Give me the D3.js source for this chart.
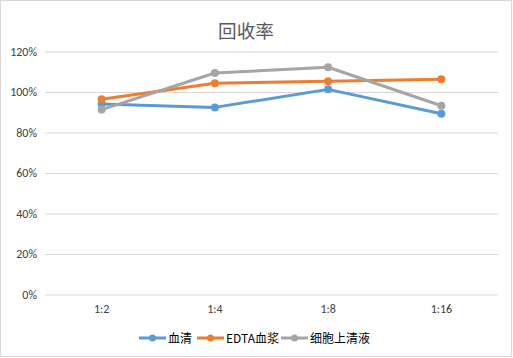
<!DOCTYPE html>
<html><head><meta charset="utf-8">
<script src="https://cdn.jsdelivr.net/npm/d3@7"></script>
<style>body{margin:0;background:#fff;}svg{display:block;font-family:"Microsoft YaHei","Noto Sans CJK SC","DejaVu Sans",sans-serif;}</style>
</head><body>
<script>
const categories = ["1:2","1:4","1:8","1:16"];
const seriesNames = ["血清","EDTA血浆","细胞上清液"];
const serum = [0.941, 0.924, 1.013, 0.893];
const edta = [0.964, 1.043, 1.053, 1.063];
const cellSup = [0.913, 1.094, 1.122, 0.932];
const yTicks = [0,0.2,0.4,0.6,0.8,1.0,1.2];
const colors = ["#5B9BD5","#ED7D31","#A5A5A5"];
const title = "回收率";

const W=513,H=358;
const svg=d3.select("body").append("svg").attr("width",W).attr("height",H);
svg.append("rect").attr("x",0.5).attr("y",0.5).attr("width",W-2).attr("height",H-2).attr("fill","#fff").attr("stroke","#D9D9D9");

const x=d3.scaleBand().domain(categories).range([45,498]);
const y=d3.scaleLinear().domain([0,1.2]).range([294.5,51.5]);

svg.append("text").attr("x",246).attr("y",38).attr("text-anchor","middle").attr("font-size",18.6).attr("fill","#595959").text(title);

const ga=svg.append("g").attr("transform","translate(45,0)")
 .call(d3.axisLeft(y).tickValues(yTicks).tickFormat(d3.format(".0%")).tickSize(-453).tickPadding(8));
ga.select(".domain").remove();
ga.selectAll("line").attr("stroke","#D9D9D9");
ga.selectAll("text").attr("font-size",12).attr("fill","#404040").attr("font-family","Calibri,'Liberation Sans','DejaVu Sans',sans-serif");

const gx=svg.append("g").attr("transform","translate(0,294.5)")
 .call(d3.axisBottom(x).tickSize(0).tickPadding(10));
gx.select(".domain").remove();
gx.selectAll("text").attr("font-size",12).attr("fill","#404040").attr("font-family","Calibri,'Liberation Sans','DejaVu Sans',sans-serif");

const data=[serum,edta,cellSup];
const line=d3.line().x((d,i)=>x(categories[i])+x.bandwidth()/2).y(d=>y(d));
data.forEach((s,k)=>{
  svg.append("path").attr("d",line(s)).attr("fill","none").attr("stroke",colors[k]).attr("stroke-width",3).attr("stroke-linejoin","round").attr("stroke-linecap","round");
  svg.selectAll(null).data(s).enter().append("circle")
   .attr("cx",(d,i)=>x(categories[i])+x.bandwidth()/2).attr("cy",d=>y(d)).attr("r",4).attr("fill",colors[k]);
});

// legend
const legX=[139,197,281];
const leg=svg.append("g");
seriesNames.forEach((n,k)=>{
  const g=leg.append("g").attr("transform",`translate(${legX[k]},338)`);
  g.append("line").attr("x1",0).attr("x2",27).attr("stroke",colors[k]).attr("stroke-width",3);
  g.append("circle").attr("cx",13.5).attr("r",3.5).attr("fill",colors[k]);
  g.append("text").attr("x",29).attr("y",4.5).attr("font-size",12).attr("fill","#000").text(n);
});
</script>
</body></html>
